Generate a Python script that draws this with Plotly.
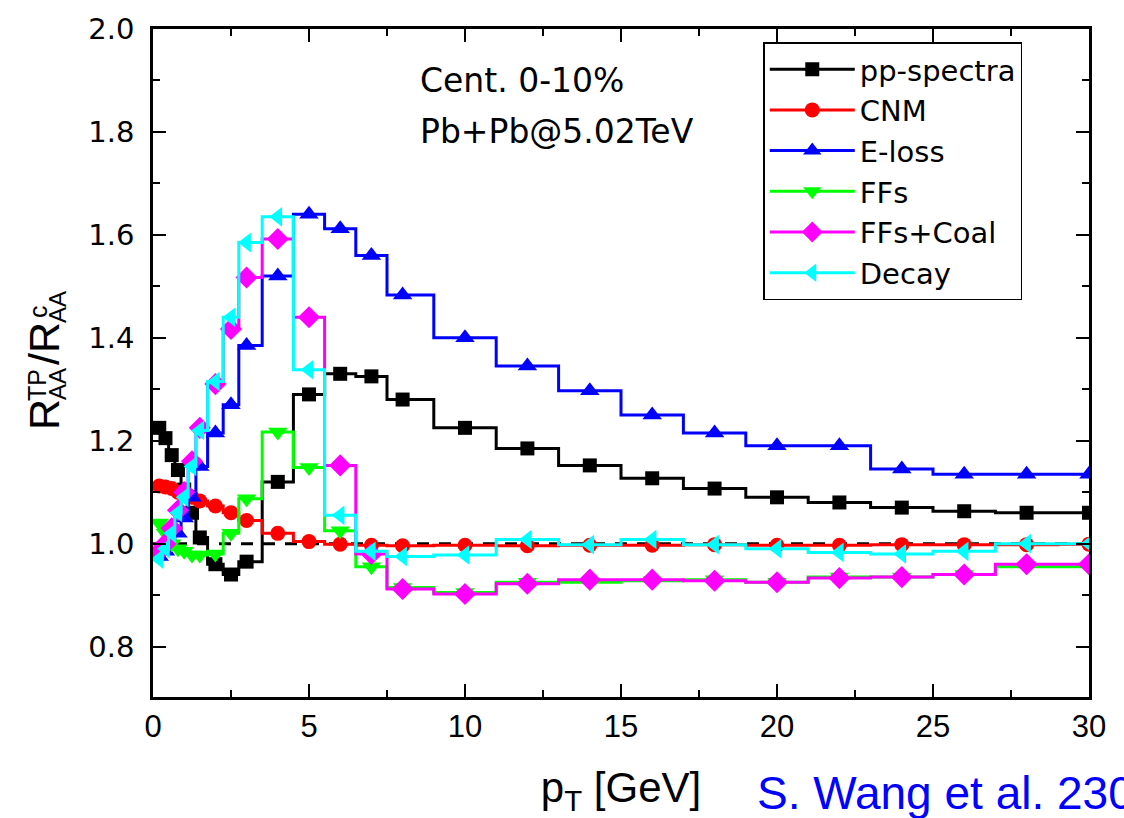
import plotly.graph_objects as go

# transverse momentum points (GeV)
pt = [0.2, 0.4, 0.6, 0.8, 1.0, 1.25, 1.5, 2.0, 2.5, 3.0, 4.0, 5, 6, 7, 8,
      10, 12, 14, 16, 18, 20, 22, 24, 26, 28, 30]

pp_spectra = [1.225, 1.205, 1.172, 1.143, 1.105, 1.06, 1.012, 0.96, 0.94, 0.965,
              1.12, 1.29, 1.33, 1.325, 1.28, 1.225, 1.185, 1.152, 1.127, 1.107,
              1.09, 1.08, 1.07, 1.063, 1.06, 1.06]
cnm = [1.112, 1.11, 1.107, 1.10, 1.095, 1.09, 1.083, 1.073, 1.06, 1.045,
       1.02, 1.004, 0.999, 0.997, 0.996, 0.997, 0.996, 0.997, 0.997, 0.998,
       0.997, 0.997, 0.998, 0.998, 0.998, 0.999]
e_loss = [0.975, 0.985, 1.0, 1.02, 1.05, 1.09, 1.15, 1.215, 1.27, 1.385,
          1.52, 1.64, 1.612, 1.56, 1.483, 1.40, 1.345, 1.297, 1.25, 1.215,
          1.19, 1.19, 1.145, 1.135, 1.135, 1.135]
ffs = [1.04, 1.02, 1.0, 0.99, 0.985, 0.978, 0.978, 0.98, 1.02, 1.087,
       1.217, 1.148, 1.025, 0.955, 0.915, 0.905, 0.925, 0.925, 0.928, 0.93,
       0.925, 0.935, 0.935, 0.94, 0.955, 0.955]
ffs_coal = [0.985, 1.0, 1.03, 1.065, 1.10, 1.16, 1.225, 1.31, 1.417, 1.517,
            1.592, 1.44, 1.152, 0.98, 0.912, 0.902, 0.922, 0.93, 0.93, 0.928,
            0.925, 0.933, 0.935, 0.94, 0.96, 0.96]
decay = [0.97, 0.99, 1.02, 1.06, 1.09, 1.15, 1.22, 1.315, 1.44, 1.585,
         1.635, 1.338, 1.055, 0.985, 0.975, 0.978, 1.008, 0.998, 1.008, 0.998,
         0.99, 0.983, 0.98, 0.985, 1.0, 1.0]

series = [
    ("pp-spectra", pp_spectra, "#000000", "square", 14),
    ("CNM", cnm, "#ff0000", "circle", 15),
    ("E-loss", e_loss, "#0000ff", "triangle-up", 17),
    ("FFs", ffs, "#00ff00", "triangle-down", 17),
    ("FFs+Coal", ffs_coal, "#ff00ff", "diamond", 17),
    ("Decay", decay, "#00ffff", "triangle-left", 17),
]

fig = go.Figure()
for name, vals, color, symbol, size in series:
    fig.add_trace(go.Scatter(
        x=pt, y=vals, name=name, mode="lines+markers",
        line=dict(color=color, width=3, shape="hvh"),
        marker=dict(color=color, symbol=symbol, size=size, line=dict(width=0)),
    ))

# reference line at unity
fig.add_shape(type="line", xref="x", yref="y", x0=0, x1=30, y0=1.0, y1=1.0,
              line=dict(color="black", width=3, dash="12px,10px"), layer="below")

axis_common = dict(
    showline=True, linecolor="black", linewidth=2.5, mirror="allticks",
    ticks="inside", ticklen=13, tickwidth=2, tickcolor="black",
    showgrid=False, zeroline=False,
)

fig.update_xaxes(
    range=[0, 30], dtick=5, tick0=0,
    minor=dict(ticks="inside", ticklen=7, tickwidth=2, tickcolor="black", dtick=2.5),
    tickfont=dict(family="Liberation Sans", size=31, color="black"),
    title=dict(text="p<sub>T</sub> [GeV]",
               font=dict(family="Liberation Sans", size=42, color="black"),
               standoff=30),
    **axis_common,
)
fig.update_yaxes(
    range=[0.702, 2.0], dtick=0.2, tick0=0.8, tickformat=".1f",
    minor=dict(ticks="inside", ticklen=7, tickwidth=2, tickcolor="black", dtick=0.1),
    tickfont=dict(family="DejaVu Sans", size=29, color="black"),
    ticklabelstandoff=10,
    **axis_common,
)

# y-axis title built from pieces so that super/subscripts stack
title_font = "Liberation Sans"
title_parts = [
    ("R", 44, 415, 43),
    ("TP", 37, 385, 25),
    ("AA", 57, 384, 24),
    ("/R", 44, 344, 43),
    ("c", 38, 312, 25),
    ("AA", 57, 307, 24),
]
for txt, px, py, fs in title_parts:
    fig.add_annotation(text=txt, xref="paper", yref="paper", x=0, y=0,
                       xshift=px - 153, yshift=697 - py, textangle=-90,
                       xanchor="center", yanchor="middle", showarrow=False,
                       font=dict(family=title_font, size=fs, color="black"))

fig.add_annotation(text="Cent. 0-10%", xref="x", yref="y", x=8.5, y=1.90,
                   xanchor="left", yanchor="middle", showarrow=False,
                   font=dict(family="DejaVu Sans", size=33, color="black"))
fig.add_annotation(text="Pb+Pb@5.02TeV", xref="x", yref="y", x=8.5, y=1.80,
                   xanchor="left", yanchor="middle", showarrow=False,
                   font=dict(family="DejaVu Sans", size=33, color="black"))
fig.add_annotation(text="S. Wang et al. 230", xref="paper", yref="paper",
                   x=0.643, y=-0.185, xanchor="left", yanchor="bottom", showarrow=False,
                   font=dict(family="Liberation Sans", size=46, color="#0000ff"))

fig.update_layout(
    width=1124, height=818,
    margin=dict(l=153, r=35, t=22, b=121),
    paper_bgcolor="white", plot_bgcolor="white",
    showlegend=True,
    legend=dict(x=0.652, y=0.98, xanchor="left", yanchor="top",
                bgcolor="rgba(0,0,0,0)", bordercolor="black", borderwidth=1.5,
                font=dict(family="DejaVu Sans", size=29, color="black"),
                itemwidth=85, tracegroupgap=0),
)

fig.write_html("out.html")
